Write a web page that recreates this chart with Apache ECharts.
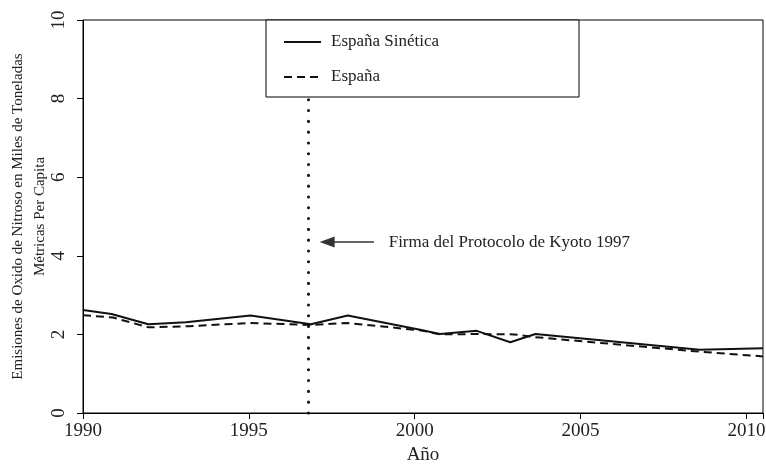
<!DOCTYPE html>
<html>
<head>
<meta charset="utf-8">
<script src="https://cdn.jsdelivr.net/npm/echarts@6/dist/echarts.min.js"></script>
<style>
  html, body { margin: 0; padding: 0; background: #fff; }
  #chart { width: 766px; height: 466px; }
</style>
</head>
<body>
<div id="chart"></div>
<script>
// Emisiones de óxido nitroso: España vs España sintética

const sinteticaPts = [
  [1990, 2.62], [1990.86, 2.52], [1991.97, 2.26], [1993.1, 2.31], [1995.05, 2.48],
  [1996.87, 2.26], [1997.98, 2.48], [2000.2, 2.11], [2000.76, 2.01], [2001.87, 2.09],
  [2002.88, 1.8], [2003.64, 2.01], [2008.59, 1.61], [2010.5, 1.65]
];
const espanaPts = [
  [1990, 2.49], [1990.9, 2.43], [1991.97, 2.18], [1993.2, 2.21], [1995.05, 2.29],
  [1996.87, 2.24], [1997.98, 2.29], [2000.2, 2.1], [2000.76, 2.0], [2002.0, 2.01],
  [2003.0, 2.0], [2003.64, 1.93], [2008.59, 1.56], [2010.5, 1.44]
];
const kyotoYear = 1996.8;
const kyotoTop = 8.0;   // la línea punteada acaba bajo la leyenda
const arrowFrom = [1998.77, 4.35];
const arrowTo = [1997.36, 4.35];
const noteAt = [1999.2, 4.35];
const noteText = 'Firma del Protocolo de Kyoto 1997';
const yTitle = 'Emisiones de Oxido de Nitroso en Miles de Toneladas\nMétricas Per Capita';

const FONT = 'Liberation Serif';
const chart = echarts.init(document.getElementById('chart'));

chart.setOption({
  animation: false,
  textStyle: { fontFamily: FONT, color: '#222' },
  grid: {
    left: 83, right: 3, top: 20, bottom: 53,
    outerBoundsMode: 'none', containLabel: false,
    show: true, borderColor: '#000', borderWidth: 1
  },
  legend: {
    orient: 'vertical',
    left: 283, top: 32, z: 10,
    padding: 0,
    itemWidth: 37, itemHeight: 20, itemGap: 15,
    itemStyle: { opacity: 0 },
    textStyle: { fontFamily: FONT, fontSize: 17, color: '#222', lineHeight: 20, padding: [0, 0, 0, 5] },
    data: ['España Sinética', 'España']
  },
  graphic: [{
    type: 'rect',
    shape: { x: 266, y: 20, width: 313, height: 77 },
    style: { fill: '#fff', stroke: '#000', lineWidth: 1 },
    z: 5
  }],
  xAxis: {
    type: 'value',
    min: 1990, max: 2010.5, interval: 5,
    name: 'Año', nameLocation: 'middle', nameGap: 32,
    nameTextStyle: { fontFamily: FONT, fontSize: 19, color: '#222' },
    splitLine: { show: false },
    axisLine: { lineStyle: { color: '#000' } },
    axisTick: { length: 6, lineStyle: { color: '#000' } },
    axisLabel: {
      fontFamily: FONT, fontSize: 19, color: '#222', margin: 9,
      formatter: v => (v % 5 === 0 ? String(v) : '')
    }
  },
  yAxis: {
    type: 'value',
    min: 0, max: 10, interval: 2,
    name: yTitle, nameLocation: 'middle', nameGap: 32, nameRotate: 90,
    nameMoveOverlap: false,
    nameTextStyle: { fontFamily: FONT, fontSize: 15, color: '#222', lineHeight: 22, align: 'center' },
    splitLine: { show: false },
    axisLine: { show: true, lineStyle: { color: '#000' } },
    axisTick: { show: true, length: 6, lineStyle: { color: '#000' } },
    axisLabel: { fontFamily: FONT, fontSize: 19, color: '#222', rotate: 90, margin: 14 }
  },
  series: [
    {
      name: 'España Sinética',
      type: 'line',
      data: sinteticaPts,
      symbol: 'none',
      lineStyle: { color: '#111', width: 2 },
      itemStyle: { color: '#111' },
      z: 3,
      markLine: {
        silent: true,
        symbol: 'none',
        data: [
          [{ coord: [kyotoYear, 0] }, { coord: [kyotoYear, kyotoTop] }]
        ],
        lineStyle: { color: '#111', type: [0.1, 10.7], width: 3, cap: 'round' },
        label: { show: false }
      }
    },
    {
      name: 'España',
      type: 'line',
      data: espanaPts,
      symbol: 'none',
      lineStyle: { color: '#111', width: 2, type: [8, 5] },
      itemStyle: { color: '#111' },
      z: 2,
      markLine: {
        silent: true,
        symbol: ['none', 'triangle'],
        symbolSize: [11, 15],
        data: [
          [{ coord: arrowFrom }, { coord: arrowTo }]
        ],
        lineStyle: { color: '#333', type: 'solid', width: 1.5 },
        label: { show: false }
      },
      markPoint: {
        silent: true,
        symbol: 'circle',
        symbolSize: 1,
        itemStyle: { color: 'rgba(0,0,0,0)' },
        data: [{
          coord: noteAt,
          label: {
            show: true, position: 'right', distance: 0,
            formatter: noteText,
            fontFamily: FONT, fontSize: 17, color: '#222'
          }
        }]
      }
    }
  ]
});
</script>
</body>
</html>
